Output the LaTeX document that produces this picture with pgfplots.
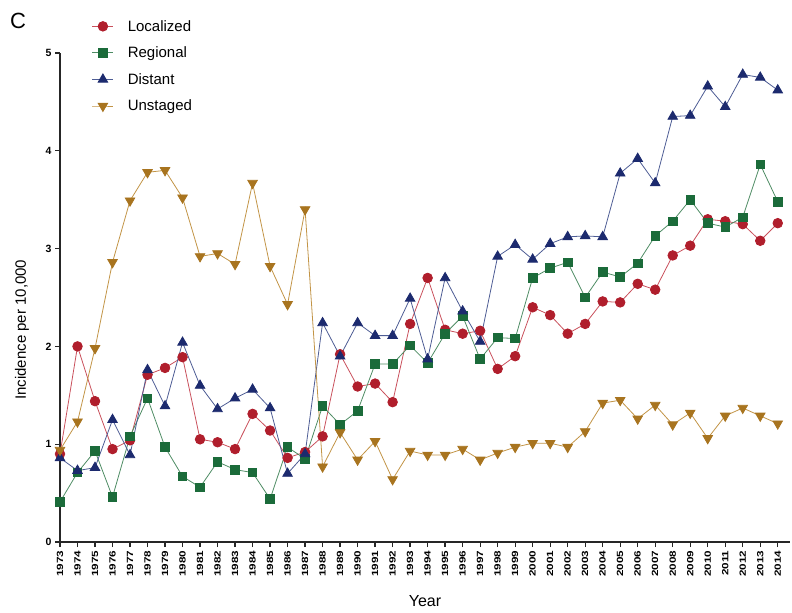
\documentclass[border=0pt]{standalone}
\usepackage{fontspec}
\setmainfont{Liberation Sans}
\usepackage{pgfplots}
\pgfplotsset{compat=1.18}

\definecolor{locM}{HTML}{B01E2C}
\definecolor{locL}{HTML}{C9505C}
\definecolor{regM}{HTML}{1B6B3A}
\definecolor{regL}{HTML}{4E8C64}
\definecolor{disM}{HTML}{1C2A6E}
\definecolor{disL}{HTML}{4D5C94}
\definecolor{unsM}{HTML}{A8741F}
\definecolor{unsL}{HTML}{C29446}

\begin{document}
\begin{tikzpicture}
\begin{axis}[
    name=ax,
    scale only axis,
    width=730bp, height=489bp,
    xmin=1973, xmax=2014.7,
    ymin=0, ymax=5,
    axis lines=left,
    axis line style={-, line width=1.3pt, black!85},
    xtick={1973,...,2014},
    ytick={0,1,2,3,4,5},
    tick align=outside,
    major tick length=5bp,
    tick style={line width=1.2pt, black!85},
    /pgf/number format/assume math mode=true,
    /pgf/number format/1000 sep={},
    xticklabel={\scalebox{1.3}[1]{\pgfmathprintnumber{\tick}}},
    xticklabel style={rotate=90, anchor=east, font=\fontsize{9bp}{10bp}\selectfont\bfseries},
    yticklabel style={font=\fontsize{10.5bp}{11bp}\selectfont\bfseries},
    xlabel={Year},
    ylabel={Incidence per 10,000},
    xlabel style={at={(axis description cs:0.5,-0.121)}, anchor=center, font=\fontsize{16bp}{18bp}\selectfont},
    ylabel style={at={(axis description cs:-0.052,0.434)}, anchor=center, font=\fontsize{15bp}{17bp}\selectfont},
    legend style={at={(axis description cs:0.0395,1.0757)}, anchor=north west, draw=none, fill=none,
                  font=\fontsize{15bp}{17bp}\selectfont, row sep=10.2bp, column sep=12bp},
    legend cell align=left,
    legend image code/.code={\draw[mark repeat=2, mark phase=2] plot coordinates {(0cm,0cm) (0.37cm,0cm) (0.74cm,0cm)};},
    clip=false,
]
\addplot[locL, line width=0.8pt, mark=*, mark size=4.8bp, mark options={locM, fill=locM}] coordinates {
(1973,0.90)(1974,2.00)(1975,1.44)(1976,0.95)(1977,1.04)(1978,1.71)(1979,1.78)(1980,1.89)
(1981,1.05)(1982,1.02)(1983,0.95)(1984,1.31)(1985,1.14)(1986,0.86)(1987,0.92)(1988,1.08)
(1989,1.92)(1990,1.59)(1991,1.62)(1992,1.43)(1993,2.23)(1994,2.70)(1995,2.17)(1996,2.13)
(1997,2.16)(1998,1.77)(1999,1.90)(2000,2.40)(2001,2.32)(2002,2.13)(2003,2.23)(2004,2.46)
(2005,2.45)(2006,2.64)(2007,2.58)(2008,2.93)(2009,3.03)(2010,3.30)(2011,3.28)(2012,3.25)
(2013,3.08)(2014,3.26)
};
\addlegendentry{Localized}
\addplot[regL, line width=0.8pt, mark=square*, mark size=4.3bp, mark options={regM, fill=regM}] coordinates {
(1973,0.41)(1974,0.71)(1975,0.93)(1976,0.46)(1977,1.08)(1978,1.47)(1979,0.97)(1980,0.67)
(1981,0.56)(1982,0.82)(1983,0.74)(1984,0.71)(1985,0.44)(1986,0.97)(1987,0.85)(1988,1.39)
(1989,1.20)(1990,1.34)(1991,1.82)(1992,1.82)(1993,2.01)(1994,1.83)(1995,2.13)(1996,2.31)
(1997,1.87)(1998,2.09)(1999,2.08)(2000,2.70)(2001,2.80)(2002,2.86)(2003,2.50)(2004,2.76)
(2005,2.71)(2006,2.85)(2007,3.13)(2008,3.28)(2009,3.50)(2010,3.26)(2011,3.22)(2012,3.32)
(2013,3.86)(2014,3.48)
};
\addlegendentry{Regional}
\addplot[disL, line width=0.8pt, mark=triangle*, mark size=5.5bp, mark options={disM, fill=disM}] coordinates {
(1973,0.86)(1974,0.73)(1975,0.76)(1976,1.25)(1977,0.89)(1978,1.76)(1979,1.39)(1980,2.04)
(1981,1.60)(1982,1.36)(1983,1.47)(1984,1.56)(1985,1.37)(1986,0.70)(1987,0.90)(1988,2.24)
(1989,1.90)(1990,2.24)(1991,2.11)(1992,2.11)(1993,2.49)(1994,1.87)(1995,2.70)(1996,2.36)
(1997,2.05)(1998,2.92)(1999,3.04)(2000,2.89)(2001,3.05)(2002,3.12)(2003,3.13)(2004,3.12)
(2005,3.77)(2006,3.92)(2007,3.67)(2008,4.35)(2009,4.36)(2010,4.66)(2011,4.45)(2012,4.78)
(2013,4.75)(2014,4.62)
};
\addlegendentry{Distant}
\addplot[unsL, line width=0.8pt, mark=triangle*, mark size=5.5bp, mark options={unsM, fill=unsM, rotate=180}] coordinates {
(1973,0.94)(1974,1.23)(1975,1.98)(1976,2.86)(1977,3.49)(1978,3.78)(1979,3.80)(1980,3.52)
(1981,2.92)(1982,2.95)(1983,2.84)(1984,3.67)(1985,2.82)(1986,2.43)(1987,3.40)(1988,0.77)
(1989,1.12)(1990,0.84)(1991,1.03)(1992,0.64)(1993,0.93)(1994,0.89)(1995,0.89)(1996,0.95)
(1997,0.84)(1998,0.91)(1999,0.97)(2000,1.01)(2001,1.01)(2002,0.97)(2003,1.13)(2004,1.42)
(2005,1.45)(2006,1.26)(2007,1.40)(2008,1.20)(2009,1.32)(2010,1.06)(2011,1.29)(2012,1.37)
(2013,1.29)(2014,1.21)
};
\addlegendentry{Unstaged}
\end{axis}
\node[font=\fontsize{22bp}{24bp}\selectfont] at ([xshift=-42bp, yshift=521bp]ax.south west) {C};
\path ([xshift=-60bp, yshift=-71bp]ax.south west) rectangle ([xshift=2bp, yshift=53bp]ax.north east);
\end{tikzpicture}
\end{document}
